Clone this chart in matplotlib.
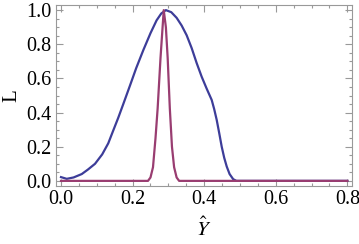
import matplotlib
matplotlib.use("Agg")
import matplotlib.pyplot as plt
from matplotlib.ticker import MultipleLocator

# blue curve (broad likelihood)
blue_x = [0.0, 0.016, 0.035, 0.058, 0.075, 0.095, 0.115, 0.132, 0.145, 0.16, 0.174, 0.193, 0.21,
          0.23, 0.25, 0.267, 0.28, 0.293, 0.308, 0.323, 0.337, 0.351, 0.365, 0.379, 0.393, 0.407,
          0.421, 0.428, 0.435, 0.442, 0.449, 0.456, 0.463, 0.471, 0.481, 0.49, 0.8]
blue_y = [0.022, 0.012, 0.02, 0.04, 0.066, 0.10, 0.155, 0.22, 0.29, 0.37, 0.45, 0.56, 0.66,
          0.766, 0.865, 0.94, 0.98, 1.0, 0.988, 0.955, 0.91, 0.853, 0.778, 0.69, 0.61, 0.54,
          0.474, 0.42, 0.357, 0.28, 0.2, 0.135, 0.084, 0.04, 0.01, 0.0, 0.0]

# purple curve (narrow likelihood)
purple_x = [0.0, 0.243, 0.25, 0.257, 0.264, 0.27, 0.278, 0.287, 0.293, 0.298, 0.304, 0.31,
            0.316, 0.323, 0.33, 0.8]
purple_y = [0.0, 0.0, 0.02, 0.08, 0.25, 0.425, 0.72, 1.0, 0.9, 0.72, 0.425, 0.2,
            0.08, 0.02, 0.0, 0.0]

xticks = [0.0, 0.2, 0.4, 0.6, 0.8]
yticks = [0.0, 0.2, 0.4, 0.6, 0.8, 1.0]

plt.rcParams['mathtext.fontset'] = 'stix'
plt.rcParams['font.family'] = ['Liberation Serif', 'DejaVu Serif']

fig = plt.figure(figsize=(3.59, 2.44), dpi=100)
ax = fig.add_axes([56/359, 1 - 186/244, (352-56)/359, (186-5)/244])

ax.plot(blue_x, blue_y, color='#3d3d99', lw=1.6, solid_joinstyle='round')
ax.plot(purple_x, purple_y, color='#993d71', lw=1.6, solid_joinstyle='round')

ax.set_xlim(-0.014, 0.813)
ax.set_ylim(-0.03, 1.03)
ax.set_xticks(xticks)
ax.set_yticks(yticks)
ax.set_xticklabels([f"{v:.1f}" for v in xticks])
ax.set_yticklabels([f"{v:.1f}" for v in yticks])
ax.xaxis.set_minor_locator(MultipleLocator(0.05))
ax.yaxis.set_minor_locator(MultipleLocator(0.05))
ax.tick_params(which='both', direction='in', top=True, right=True, color='#999999',
               labelsize=14.5, labelcolor='black', width=0.8)
ax.tick_params(which='major', length=5, pad=3)
ax.tick_params(which='minor', length=2.5)
for s in ax.spines.values():
    s.set_color('#999999')
    s.set_linewidth(0.8)

ax.set_ylabel('L', fontsize=15, labelpad=4)
ax.set_xlabel(r'$\hat{Y}$', fontsize=15, labelpad=6)

fig.savefig('out.png', dpi=100)
